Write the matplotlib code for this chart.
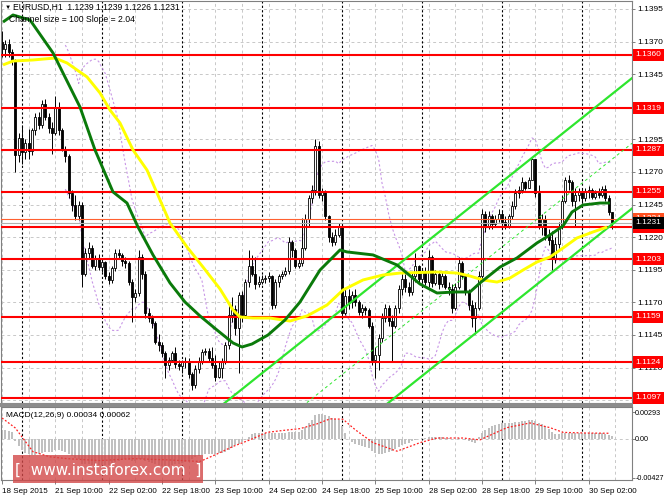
import numpy as np
import pandas as pd
import matplotlib
matplotlib.use("Agg")
import matplotlib.pyplot as plt
from matplotlib.patches import Rectangle

W, H = 664, 498

def fx(px):
    return px / W

def fy(py):
    return 1 - py / H

# hourly bars, 18 Sep 18:00 .. 30 Sep 09:00, prices in pips above 1.1000
first_open = 370
closes = [364, 368, 362, 356, 283, 296,
          285, 292, 286, 302, 312, 306, 322, 312, 304, 300, 320, 302, 288, 282, 254, 245, 236, 245, 192, 208, 212, 198, 204, 197,
          201, 190, 187, 196, 208, 206, 202, 200, 186, 174, 177, 205, 192, 162, 158, 154, 140, 137, 131, 122, 126, 131, 123, 121,
          124, 125, 115, 107, 119, 125, 132, 133, 127, 122, 113, 120, 125, 137, 160, 165, 150, 176, 160, 186, 198, 192, 184, 186,
          188, 189, 190, 168, 186, 190, 192, 194, 216, 210, 198, 200, 212, 234, 250, 256, 290, 252, 255, 236, 220, 216, 222, 228,
          162, 175, 170, 176, 170, 163, 166, 164, 152, 126, 130, 143, 158, 166, 156, 152, 166, 180, 188, 182, 178, 190, 198, 188,
          193, 186, 205, 185, 192, 184, 190, 182, 180, 166, 182, 200, 190, 178, 168, 158, 166, 190, 238, 228, 236, 230, 234, 238,
          232, 228, 236, 244, 254, 256, 262, 258, 264, 280, 254, 228, 234, 222, 218, 203, 215, 228, 248, 264, 262, 248, 252, 255,
          250, 255, 256, 251, 254, 252, 257, 250, 239, 231]
highs = [378, 371, 372, 364, 357, 300,
         306, 295, 303, 304, 315, 316, 325, 326, 315, 308, 328, 324, 304, 290, 284, 256, 252, 248, 247, 212, 216, 214, 206, 207,
         203, 202, 193, 198, 211, 211, 208, 205, 202, 188, 180, 210, 207, 194, 166, 160, 156, 146, 140, 133, 128, 133, 136, 126,
         126, 128, 127, 117, 122, 128, 134, 135, 135, 136, 130, 124, 127, 140, 168, 174, 168, 178, 179, 188, 210, 206, 205, 190,
         191, 191, 193, 191, 188, 192, 194, 197, 220, 218, 212, 203, 235, 238, 252, 260, 295, 294, 258, 256, 237, 224, 226, 231,
         230, 180, 180, 179, 180, 172, 169, 167, 166, 155, 136, 146, 162, 169, 168, 160, 168, 183, 192, 192, 186, 193, 208, 199,
         196, 197, 210, 206, 195, 194, 193, 192, 186, 184, 185, 205, 202, 192, 180, 172, 170, 194, 242, 240, 240, 238, 237, 242,
         240, 236, 238, 248, 257, 259, 266, 263, 266, 281, 280, 260, 238, 237, 226, 225, 220, 232, 252, 266, 268, 264, 258, 258,
         258, 258, 259, 258, 256, 258, 259, 260, 252, 239]
lows = [358, 358, 358, 352, 270, 278,
        276, 280, 280, 283, 298, 303, 304, 310, 300, 284, 298, 298, 286, 278, 250, 240, 233, 233, 182, 190, 204, 196, 195, 195,
        193, 188, 184, 185, 194, 203, 198, 196, 183, 155, 170, 175, 188, 158, 155, 150, 138, 133, 128, 112, 118, 124, 120, 118,
        116, 120, 112, 103, 104, 116, 123, 130, 125, 120, 110, 112, 112, 123, 134, 155, 145, 116, 155, 158, 182, 190, 180, 182,
        184, 185, 186, 165, 166, 182, 188, 190, 192, 205, 196, 196, 198, 210, 228, 246, 252, 250, 248, 233, 216, 213, 214, 220,
        157, 160, 165, 166, 167, 160, 158, 160, 150, 122, 112, 118, 140, 155, 152, 125, 150, 162, 176, 178, 175, 176, 186, 185,
        185, 183, 182, 182, 183, 180, 182, 180, 176, 162, 164, 180, 188, 176, 164, 151, 146, 164, 188, 224, 226, 226, 228, 232,
        229, 226, 227, 234, 242, 250, 254, 256, 258, 264, 251, 226, 222, 218, 214, 195, 200, 212, 226, 246, 256, 244, 228, 248,
        246, 248, 250, 249, 249, 250, 251, 248, 237, 226]

# moving averages (bar index, pips)
green_x = [0.3, 3.3, 8.4, 15.3, 23.4, 27.9, 33.3, 37.5, 40.8, 45.3, 50.4, 54.9, 59.4, 64.5, 69.3, 72.0, 75.0, 79.8,
           84.9, 89.4, 95.4, 101.4, 103.5, 111.3, 118.5, 125.4, 130.5, 135.9, 140.4, 143.4, 149.4, 154.5, 160.5,
           164.4, 168.3, 171.0, 174.3, 179.4, 182.4]
green_p = [385.0, 390.4, 386.6, 361.3, 319.8, 286.9, 254.7, 246.2, 227.8, 206.4, 184.9, 170.3, 159.6, 148.8, 138.9,
           135.8, 138.1, 145.0, 156.5, 170.3, 194.8, 210.2, 208.7, 206.4, 198.7, 184.1, 177.2, 178.0, 178.0, 184.9,
           197.1, 204.1, 215.6, 221.7, 228.6, 239.3, 244.7, 246.2, 246.2]
yellow_x = [0.3, 3.3, 9.3, 15.9, 19.5, 25.5, 29.4, 32.4, 35.4, 39.3, 43.5, 46.5, 50.4, 55.5, 60.3, 65.4, 69.3, 71.4,
            75.3, 80.4, 86.4, 91.5, 97.5, 102.3, 108.3, 114.3, 119.4, 130.5, 136.5, 140.4, 144.3, 148.5, 152.4,
            156.3, 160.5, 164.4, 168.3, 172.5, 177.3, 181.5]
yellow_p = [352.1, 355.1, 355.9, 357.4, 353.6, 342.9, 330.6, 317.5, 307.6, 286.9, 271.5, 253.9, 230.9, 212.5, 197.1,
            180.3, 164.2, 158.8, 158.0, 158.0, 155.7, 159.6, 168.0, 179.5, 187.2, 191.0, 192.5, 193.3, 192.5, 190.2,
            187.2, 185.6, 188.7, 194.8, 201.0, 204.8, 211.7, 219.4, 224.0, 227.8]

# regression channel: size 100 pips, slope 2.04
chan_x = [60, 189]
chan_top = [1.1079, 1.1342]
chan_size = 0.0100

levels = [1.1360, 1.1319, 1.1287, 1.1255, 1.1228, 1.1203, 1.1159, 1.1124, 1.1097]
price_ticks = [1.1395, 1.1370, 1.1345, 1.1320, 1.1295, 1.1270, 1.1245, 1.1220,
               1.1195, 1.1170, 1.1145, 1.1120, 1.1095]
hidden_ticks = [1.1320]   # fully covered by the 1.1319 label in the chart

# MACD main (histogram) in units of 0.0001, one per bar
macd = [10, 10, 9, 8, -2, -8, -12, -15, -17, -18,
        -18, -17, -15, -14, -14, -14, -12, -12, -13, -14,
        -17, -19, -21, -22, -27, -28, -28, -29, -29, -29,
        -29, -29, -29, -27, -25, -24, -23, -22, -23, -24,
        -24, -22, -22, -24, -25, -26, -28, -29, -30, -31,
        -30, -29, -28, -27, -26, -25, -24, -22, -20, -19,
        -18, -17, -17, -16, -16, -15, -15, -14, -12, -10,
        -7, -5, -3, -1, 2, 5, 7, 7, 7, 7,
        7, 6, 6, 6, 7, 7, 8, 8, 8, 8,
        10, 13, 17, 21, 26, 27, 27, 26, 25, 23,
        22, 21, 14, 6, 0, -3, -5, -7, -8, -9,
        -10, -13, -15, -16, -16, -15, -14, -13, -11, -9,
        -7, -5, -4, -2, -1, 0, 1, 1, 2, 2,
        2, 2, 2, 1, 1, 0, 0, 1, 0, -1,
        -2, -3, -4, 2, 7, 10, 12, 14, 15, 16,
        17, 17, 18, 18, 19, 19, 20, 20, 21, 21,
        20, 18, 16, 14, 11, 8, 5, 5, 6, 6,
        6, 6, 6, 6, 6, 6, 6, 6, 6, 6,
        6, 5, 4, 3]
signal_x = [0, 4, 9.3, 14.4, 19.5, 29.4, 39.3, 50, 59.4, 64.5, 69.3, 74.4, 79.5, 84.3, 89.4, 94.5, 98.4, 102.3,
            106, 111.3, 118.5, 125.4, 130.5, 138.3, 143.4, 147, 151.5, 158.4, 164.4, 168.3, 175, 182.4]
signal_v = [23, 12, -14, -19.6, -21.6, -23.7, -21.6, -23, -24.7, -16.5, -8.2, -1, 7.2, 9.3, 11.3, 16.5, 22, 21.6,
            10, -4.1, -13.4, -4.1, 1, 1, -1, 5, 12.4, 17.5, 12.4, 7.2, 6.5, 6.2]

time_pos = [0, 16, 32, 48, 64, 80, 96, 112, 128, 144, 160, 176]
time_labels = ["18 Sep 2015", "21 Sep 10:00", "22 Sep 02:00", "22 Sep 18:00", "23 Sep 10:00", "24 Sep 02:00",
               "24 Sep 18:00", "25 Sep 10:00", "28 Sep 02:00", "28 Sep 18:00", "29 Sep 10:00", "30 Sep 02:00"]
day_starts = [6, 30, 54, 78, 102, 126, 150, 174]

pip = 0.0001
c = 1.1 + np.array(closes) * pip
hi = 1.1 + np.array(highs) * pip
lo = 1.1 + np.array(lows) * pip
o = np.concatenate([[1.1 + first_open * pip], c[:-1]])
x = np.arange(len(c))

plt.rcParams['font.family'] = ['Liberation Sans', 'DejaVu Sans']

fig = plt.figure(figsize=(W / 100, H / 100), dpi=100)
ax = fig.add_axes([fx(1), fy(403), fx(631), 402 / H])
ax2 = fig.add_axes([fx(1), fy(480), fx(631), 73 / H])

xmin, xmax = -0.3, 189.0
for a in (ax, ax2):
    a.set_xlim(xmin, xmax)
    for s in a.spines.values():
        s.set_color('#808080')
        s.set_linewidth(0.8)
    for g in range(0, 190, 8):
        a.axvline(g, color='#C8C8C8', lw=0.7, ls=(0, (3, 3)), zorder=0)
    for d in day_starts:
        a.axvline(d, color='black', lw=0.8, ls=(0, (2, 2)), zorder=0.5)

ax.set_ylim(1.109285, 1.140113)
for p in price_ticks:
    ax.axhline(p, color='#C8C8C8', lw=0.7, ls=(0, (3, 3)), zorder=0)

# Bollinger bands
s = pd.Series(c)
mid = s.rolling(20).mean()
sd = s.rolling(20).std(ddof=0)
ax.plot(x, mid + 2 * sd, color='#C896E6', lw=0.8, ls=(0, (2, 2)), zorder=1)
ax.plot(x, mid - 2 * sd, color='#C896E6', lw=0.8, ls=(0, (2, 2)), zorder=1)

# candles
up = c >= o
ax.vlines(x, lo, hi, color='black', lw=0.7, zorder=2)
ax.bar(x[up], (c - o)[up], bottom=o[up], width=0.62, color='white', edgecolor='black', lw=0.6, zorder=2.5)
ax.bar(x[~up], (o - c)[~up], bottom=c[~up], width=0.62, color='black', edgecolor='black', lw=0.6, zorder=2.5)

# support / resistance levels
for lv in levels:
    ax.axhline(lv, color='#FF0000', lw=1.5, zorder=3)
ax.axhline(1.1234, color='#FF6030', lw=0.8, zorder=3)
ax.axhline(1.1231, color='#B0B0B0', lw=0.8, zorder=3)

# channel
ctop = np.array(chan_top)
ax.plot(chan_x, ctop, color='#2EE62E', lw=1.6, zorder=3.5)
ax.plot(chan_x, ctop - chan_size, color='#2EE62E', lw=1.6, zorder=3.5)
ax.plot(chan_x, ctop - chan_size / 2, color='#2EE62E', lw=0.7, ls=(0, (3, 3)), zorder=3.5)

# moving averages
ax.plot(yellow_x, 1.1 + np.array(yellow_p) * pip, color='#FFFF00', lw=2.1, zorder=4,
        solid_capstyle='butt')
ax.plot(green_x, 1.1 + np.array(green_p) * pip, color='#0A7A0A', lw=2.1, zorder=4.5,
        solid_capstyle='butt')

ax.yaxis.tick_right()
ax.set_yticks(price_ticks)
ax.set_yticklabels(["" if p in hidden_ticks else f"{p:.4f}" for p in price_ticks])
ax.tick_params(axis='y', labelsize=6.0, length=2.5, pad=1.5, width=0.7, color='#808080')
ax.tick_params(axis='x', bottom=False, labelbottom=False)

tr = ax.get_yaxis_transform()
for lv in levels:
    ax.text(1.0055, lv, f"{lv:.4f}", transform=tr, fontsize=6.0, color='white', va='center', ha='left',
            bbox=dict(boxstyle='square,pad=0.3', fc='#FF0000', ec='none'), clip_on=False, zorder=6)
ax.text(1.0055, 1.1234, "1.1234", transform=tr, fontsize=6.0, color='white', va='center', ha='left',
        bbox=dict(boxstyle='square,pad=0.3', fc='#FF5020', ec='none'), clip_on=False, zorder=6)
ax.text(1.0055, 1.1231, "1.1231", transform=tr, fontsize=6.0, color='white', va='center', ha='left',
        bbox=dict(boxstyle='square,pad=0.3', fc='black', ec='none'), clip_on=False, zorder=7)

# MACD panel
ax2.set_ylim(-0.0045, 0.0035)
ax2.axhline(0, color='#C8C8C8', lw=0.7, ls=(0, (3, 3)), zorder=0)
ax2.bar(x, np.array(macd) * 1e-4, width=0.62, color='#C0C0C0', zorder=2)
ax2.plot(signal_x, np.array(signal_v) * 1e-4, color='#FF2020', lw=0.9, ls=(0, (1.5, 1.5)), zorder=3)
ax2.yaxis.tick_right()
ax2.set_yticks([0.00293, 0.0, -0.00427])
ax2.set_yticklabels(['0.00293', '0.00', '-0.00427'])
ax2.tick_params(axis='y', labelsize=5.2, length=2, pad=0.3, width=0.7, color='#808080')
ax2.set_xticks(time_pos)
ax2.set_xticklabels(time_labels)
ax2.tick_params(axis='x', labelsize=5.8, length=3, pad=3, width=0.7, color='#808080')
for t in ax2.get_xticklabels():
    t.set_ha('left')
ax2.text(0.008, 0.88, "MACD(12,26,9) 0.00034 0.00062", transform=ax2.transAxes, fontsize=6.0,
         va='center', ha='left', zorder=5)

# separator between panels
fig.add_artist(Rectangle((fx(0), fy(407)), fx(633), 4 / H, transform=fig.transFigure,
                         fc='#8C8C8C', ec='none'))

# header texts
fig.text(fx(5), fy(7), "\u25bc", fontsize=4.5, va='center', ha='left')
fig.text(fx(13), fy(7), "EURUSD,H1  1.1239 1.1239 1.1226 1.1231", fontsize=6.2, va='center', ha='left')
fig.text(fx(9), fy(19), "Channel size = 100 Slope = 2.04", fontsize=6.2, va='center', ha='left')

# watermark
fig.add_artist(Rectangle((fx(13), fy(483)), fx(190), 28 / H, transform=fig.transFigure,
                         fc='#D24848', ec='none', alpha=0.8, zorder=10))
fig.text(fx(108), fy(470), "[  www.instaforex.com  ]", fontsize=11, color='white',
         va='center', ha='center', family='DejaVu Sans', zorder=11)

fig.savefig("out.png", dpi=100)
